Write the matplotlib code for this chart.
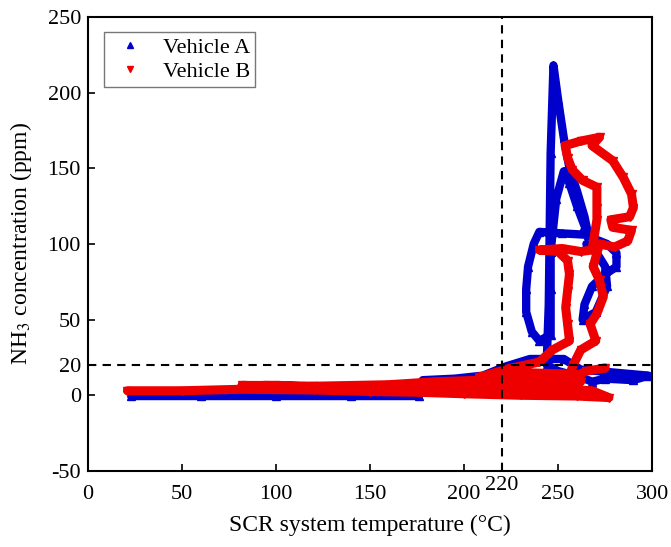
import matplotlib
matplotlib.use('Agg')
import matplotlib.pyplot as plt
import matplotlib.transforms as mtransforms

plt.rcParams['font.family'] = ['Liberation Serif', 'DejaVu Serif']
plt.rcParams['mathtext.fontset'] = 'stix'
plt.rcParams['axes.unicode_minus'] = False

# Vehicle A (azul) - trayectoria
a_temp = [23, 60, 100, 140, 176, 178, 195, 210, 222, 235, 253, 262, 280, 298,
          290, 275, 268, 262, 250, 244, 244, 245, 245.5, 246,
          247.5, 250, 253, 256, 260, 264, 266, 252, 240, 237, 234, 233, 233,
          236, 240, 246, 246, 246, 249, 253, 256, 260, 264, 268, 276, 281, 281,
          275, 268, 264, 263, 270, 276, 275, 270, 265]
a_nh3 = [-0.5, -0.5, -0.5, -0.5, -0.5, 10, 11, 13, 19, 24, 24, 17, 15, 13,
         10, 11, 9, 12, 16, 20, 25, 60, 110, 160,
         218, 195, 170, 150, 135, 118, 106, 107, 108, 100, 85, 70, 55,
         42, 36, 40, 70, 95, 130, 148, 140, 125, 112, 104, 100, 94, 85,
         80, 72, 60, 50, 55, 72, 85, 95, 100]

# Vehicle B (rojo)
b_temp = [21, 50, 82, 120, 150, 175, 200, 230, 260, 277,
          268, 240, 210, 185, 160, 120, 95, 82,
          100, 120, 160, 185, 210, 240, 262,
          258, 230, 208, 225, 240, 247, 256, 255,
          254, 255, 256, 255, 250, 240, 252, 262, 268, 270.6,
          270.6, 270.6, 263, 257.5, 255, 253.7, 262, 272, 268, 279, 284.6, 289,
          290, 288, 278, 279, 289, 287, 280, 272, 268.6, 272, 274, 270.6, 267,
          270, 262, 258, 255, 265, 275]
b_nh3 = [3, 3, 4, 3.5, 2.5, 2, 1, 0, -0.5, -1.5,
         3, 5, 6, 6.5, 5.5, 5.5, 6.5, 6.5,
         6.5, 6, 7, 9, 10, 10, 9,
         14, 15, 12, 18, 22, 30, 36, 47,
         58, 69, 80, 89, 95, 96, 97, 95, 96, 116,
         124, 137.5, 142, 149, 157, 165, 168, 170.5, 165, 155, 144, 133,
         124, 118, 116, 111, 109, 102, 98, 100, 85, 76, 65, 54, 47,
         36, 30, 20, 10, 16, 18]

x_ticks = [0, 50, 100, 150, 200, 250, 300]
y_ticks = [-50, 0, 20, 50, 100, 150, 200, 250]

fig = plt.figure(figsize=(6.71, 5.47), dpi=100)
ax = fig.add_axes([0.131, 0.139, 0.841, 0.830])

ax.plot(a_temp, a_nh3, color='#0000CC', lw=6, marker='^', ms=6,
        solid_joinstyle='round', solid_capstyle='round', zorder=2)
ax.plot(b_temp, b_nh3, color='#EE0000', lw=6.5, marker='v', ms=6,
        solid_joinstyle='round', solid_capstyle='round', zorder=3)

# handles de leyenda solo con marcador
ax.plot([], [], ls='none', marker='^', color='#0000CC', ms=5, label='Vehicle A')
ax.plot([], [], ls='none', marker='v', color='#EE0000', ms=5, label='Vehicle B')

ax.axvline(220, color='black', ls='--', lw=1.5, dashes=(4, 3), zorder=4)
ax.axhline(20, color='black', ls='--', lw=1.5, dashes=(4, 3), zorder=4)

ax.set_xlim(0, 300)
ax.set_ylim(-50, 250)
ax.set_xticks(x_ticks)
ax.set_yticks(y_ticks)
ax.tick_params(direction='in', length=5, width=1.2, labelsize=16,
               top=False, right=False)
ax.tick_params(axis='x', pad=10)
ax.tick_params(axis='y', pad=5)
for s in ax.spines.values():
    s.set_linewidth(1.5)

trans = mtransforms.blended_transform_factory(ax.transData, ax.transAxes)
ax.text(220, -0.011, '220', transform=trans, ha='center', va='top', fontsize=16)

ax.set_xlabel('SCR system temperature (°C)', fontsize=17, labelpad=8)
ax.set_ylabel('NH$_3$ concentration (ppm)', fontsize=17, labelpad=10)

leg = ax.legend(loc='upper left', bbox_to_anchor=(0.028, 0.967), fontsize=16,
                frameon=True, fancybox=False, edgecolor='#555555',
                borderaxespad=0, handletextpad=0.5, labelspacing=0.15,
                borderpad=0.25, handlelength=1.9)
leg.get_frame().set_linewidth(1.0)

plt.savefig('out.png', dpi=100)
plt.close()
